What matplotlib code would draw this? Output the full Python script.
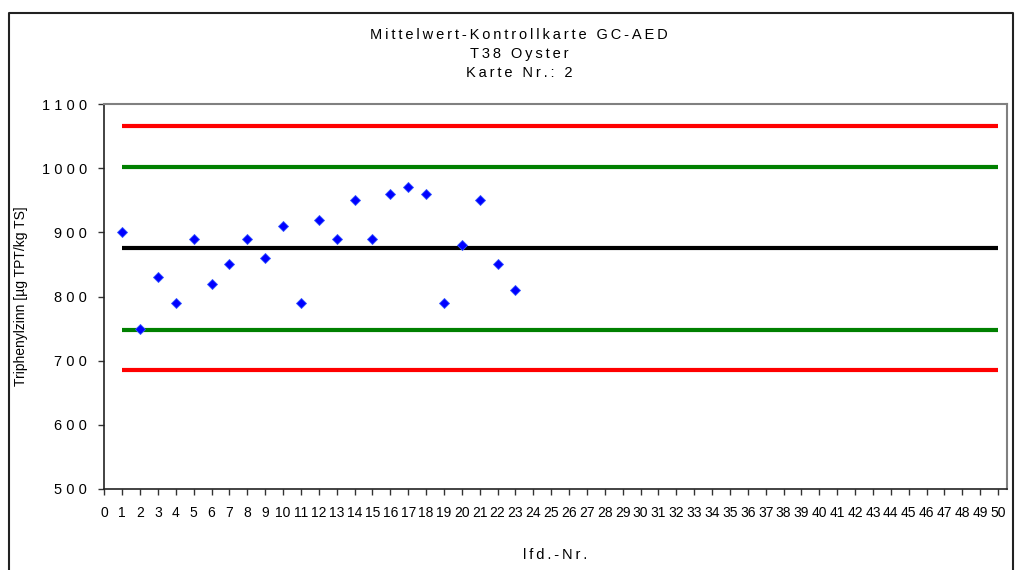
import numpy as np
import matplotlib.pyplot as plt
from matplotlib.lines import Line2D

plt.rcParams['font.family'] = ['Liberation Sans', 'DejaVu Sans']

# Messwerte (lfd.-Nr. 1..23)
lfd_nr = list(range(1, 24))
werte = [900, 750, 830, 790, 890, 820, 850, 890, 860, 910, 790, 920,
         890, 950, 890, 960, 970, 960, 790, 880, 950, 850, 810]

# Kontrollgrenzen
mittelwert = 875.4
warngrenzen = [748.5, 1002.3]
kontrollgrenzen = [685.0, 1065.8]
linien_x = [1, 50]

x_ticks = list(range(0, 51))
y_ticks = [500, 600, 700, 800, 900, 1000, 1100]

TS = '\u2009'  # schmaler Zeichenabstand wie im Original


def sperren(text):
    return TS.join(text)


fig = plt.figure(figsize=(10.18, 5.70), dpi=100)
W, H = 1018, 570
ax = fig.add_axes([104 / W, (H - 489) / H, (1007 - 104) / W, (489 - 104) / H])

# Grenzlinien
for g in kontrollgrenzen:
    ax.plot(linien_x, [g, g], color='#ff0000', linewidth=3, solid_capstyle='butt', zorder=2)
for g in warngrenzen:
    ax.plot(linien_x, [g, g], color='#008000', linewidth=3, solid_capstyle='butt', zorder=2)
ax.plot(linien_x, [mittelwert, mittelwert], color='black', linewidth=3,
        solid_capstyle='butt', zorder=2)

# Messpunkte
ax.plot(lfd_nr, werte, linestyle='none', marker='D', markersize=5,
        color='#0000ff', markeredgecolor='#3355ff', markeredgewidth=0.6, zorder=3)

ax.set_xlim(-0.02, 50.5)
ax.set_ylim(500, 1100)
ax.set_xticks(x_ticks)
ax.set_xticklabels([str(v) for v in x_ticks], fontsize=10)
ax.set_yticks(y_ticks)
ax.set_yticklabels([' '.join(str(v)) for v in y_ticks], fontsize=10.5)
ax.tick_params(axis='both', direction='out', length=4, width=1, color='#333333')
ax.tick_params(axis='x', pad=8)
ax.tick_params(axis='y', pad=8)

for s in ['left', 'bottom']:
    ax.spines[s].set_color('#222222')
    ax.spines[s].set_linewidth(1.2)
for s in ['top', 'right']:
    ax.spines[s].set_color('#808080')
    ax.spines[s].set_linewidth(1.5)

ax.set_ylabel('Triphenylzinn [µg TPT/kg TS]', fontsize=10, labelpad=10)
fig.text(555 / W, 1 - 555 / H, sperren('lfd.-Nr.'), fontsize=10.5, ha='center', va='center')

# Titel
titel = ['Mittelwert-Kontrollkarte GC-AED', 'T38 Oyster', 'Karte Nr.: 2']
for i, t in enumerate(titel):
    fig.text(519 / W, 1 - (35 + 19 * i) / H, sperren(t), fontsize=10.5,
             ha='center', va='center')

# Rahmen des Diagrammbereichs
x0, x1, y0 = 8.5 / W, 1012.5 / W, 1 - 12.5 / H
fig.add_artist(Line2D([x0, x0, x1, x1], [0, y0, y0, 0], transform=fig.transFigure,
                      color='#222222', linewidth=1.5))

fig.savefig('out.png', dpi=100)
